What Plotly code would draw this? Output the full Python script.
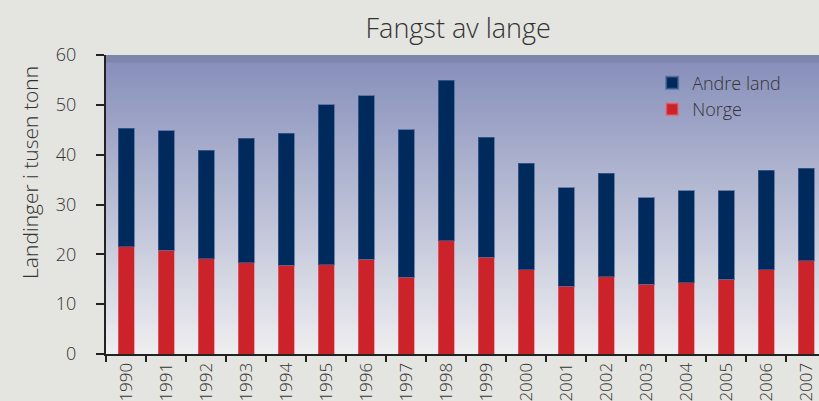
import plotly.graph_objects as go

years = [str(y) for y in range(1990, 2008)]
totals = [45.3, 44.8, 40.9, 43.3, 44.3, 50.0, 51.8, 45.0, 54.9, 43.5,
          38.3, 33.4, 36.3, 31.4, 32.8, 32.8, 36.9, 37.3]
norge = [21.5, 20.8, 19.1, 18.3, 17.8, 17.9, 19.0, 15.4, 22.7, 19.4,
         16.9, 13.6, 15.5, 14.0, 14.3, 15.0, 16.9, 18.7]
andre_land = [round(t - n, 1) for t, n in zip(totals, norge)]

FONT = "Open Sans"
TXT = "#333333"

fig = go.Figure()
fig.add_trace(go.Bar(x=years, y=norge, name="Norge",
                     marker=dict(color="#cc232b", line=dict(color="rgba(220,120,130,0.6)", width=1))))
fig.add_trace(go.Bar(x=years, y=andre_land, name="Andre land",
                     marker=dict(color="#002a5c", line=dict(color="rgba(70,100,150,0.7)", width=1))))

# vertical gradient background of the plot area (overlapping strips)
n = 100
top = (134, 142, 186)
bot = (238, 238, 240)
shapes = []
for i in range(n):
    f = i / (n - 1)
    c = tuple(round(bot[k] + (top[k] - bot[k]) * f) for k in range(3))
    shapes.append(dict(type="rect", xref="x domain", yref="y domain",
                       x0=0, x1=1, y0=i / n, y1=min(1, (i + 2) / n),
                       fillcolor="rgb(%d,%d,%d)" % c, line=dict(width=0), layer="below"))
shapes.append(dict(type="rect", xref="x domain", yref="y domain", x0=0, x1=1,
                   y0=0.975, y1=1, fillcolor="rgba(120,128,165,0.6)", line=dict(width=0), layer="below"))

fig.update_layout(
    width=819, height=401,
    barmode="stack", bargap=0.6,
    paper_bgcolor="#e4e4e0", plot_bgcolor="rgba(0,0,0,0)",
    margin=dict(l=106, r=0, t=55, b=47, autoexpand=False),
    shapes=shapes,
    title=dict(text="Fangst av lange", x=0.494, xanchor="center", xref="paper",
               y=0.93, yref="container", yanchor="middle", automargin=False,
               font=dict(family=FONT, size=27, color=TXT, weight=300)),
    legend=dict(x=0.766, y=0.968, xanchor="left", yanchor="top", traceorder="reversed",
                bgcolor="rgba(0,0,0,0)", font=dict(family=FONT, size=18, color=TXT, weight=300),
                itemsizing="constant", tracegroupgap=4),
    font=dict(family=FONT, color=TXT),
    annotations=[dict(text="Landinger i tusen tonn", textangle=-90, showarrow=False,
                      xref="paper", yref="paper", x=-0.1066, y=0.609,
                      xanchor="center", yanchor="middle",
                      font=dict(family=FONT, size=21, color=TXT, weight=300))],
)
fig.update_xaxes(type="category", range=[-0.5, 17.325], tickson="boundaries", automargin=False,
                 ticks="outside", ticklen=6, tickwidth=2, tickcolor="#222",
                 showline=True, linewidth=2, linecolor="#222", showgrid=False,
                 tickangle=-90, tickfont=dict(family=FONT, size=17, color=TXT, weight=300))
fig.update_yaxes(range=[0, 60], dtick=10, ticks="outside", ticklen=8, tickwidth=2, automargin=False,
                 tickcolor="#222", showline=True, linewidth=2, linecolor="#222",
                 showgrid=False, zeroline=False, ticklabelstandoff=16,
                 tickfont=dict(family=FONT, size=18, color=TXT, weight=300))

fig.write_html("out.html", config={"displayModeBar": False},
               post_script="document.body.style.margin='0';document.body.style.overflow='hidden';")
